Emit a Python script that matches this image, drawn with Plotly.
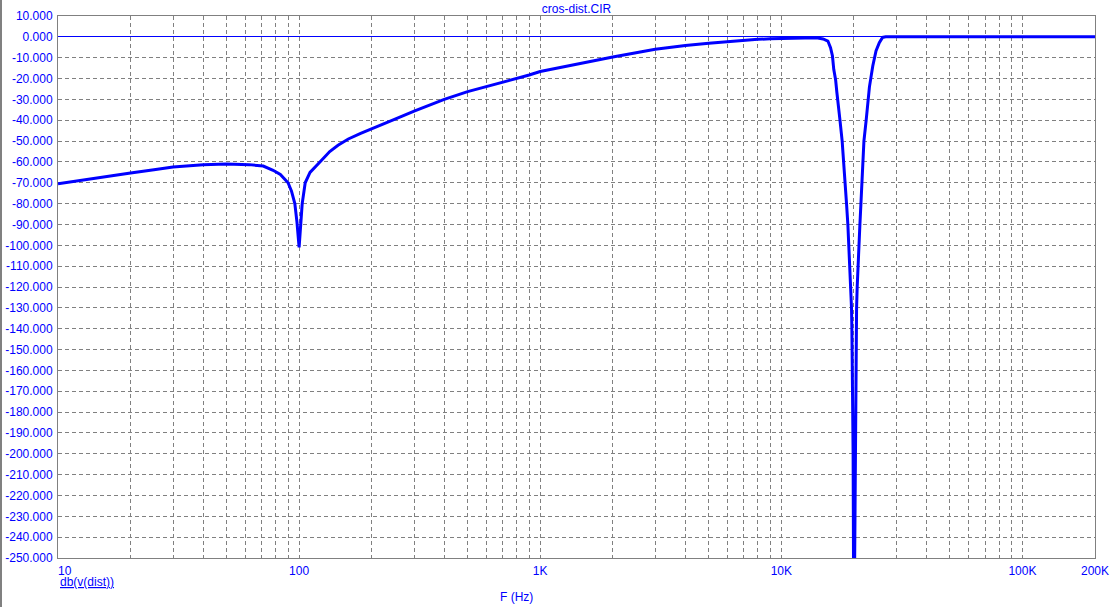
import plotly.graph_objects as go

# ---- data ----
freq_hz = [10, 15, 20, 25, 30, 40, 50, 62, 71, 78, 83.6, 90, 93, 96, 98, 100, 102, 103, 106, 111,
           122, 134, 145, 160, 180, 200, 250, 300, 400, 500, 600, 700, 800, 900, 1000, 1500, 2000, 3000,
           4000, 5000, 6000, 7000, 8000, 9000, 10000, 12000, 14000, 14900, 15600, 16000, 16300,
           16500, 16800, 17000, 17300, 17500, 17880, 18170, 18400, 18640, 18880, 19050, 19290,
           19420, 19550, 19620, 19680, 19740, 19850, 20000, 20200, 20320, 20380, 20440, 20520,
           20640, 20780, 20980, 21180, 21390, 21590, 21860, 22010, 22500, 23200, 23950, 24700,
           25500, 26300, 27100, 50000, 100000, 200000]
db_dist = [-70.5, -67.3, -65.3, -63.7, -62.4, -61.3, -61.0, -61.3, -62.0, -64.0, -66.0, -70.0,
           -74.0, -80.0, -89.0, -101.0, -89.0, -80.0, -70.0, -65.0,
           -60.0, -55.0, -52.0, -49.0, -46.3, -44.0, -39.5, -35.6, -30.0, -26.3, -23.9, -21.7, -20.0, -18.3,
           -16.6, -12.4, -9.7, -6.0,
           -4.1, -3.1, -2.3, -1.7, -1.2, -0.9, -0.7, -0.5, -0.4, -1.0, -2.0, -5.2, -9.2,
           -15.6, -20.7, -26.7, -33.0, -39.7, -50.0, -60.0, -70.0, -80.0, -90.0, -100.0, -110.0,
           -120.0, -130.0, -140.0, -150.0, -160.0, -200.0, -300.0, -215.0, -160.0, -150.0, -140.0, -130.0,
           -120.0, -110.0, -100.0, -90.0, -80.0, -70.0, -60.0, -50.0, -39.7, -24.0, -14.0, -6.8,
           -2.8, -0.3, 0.0, 0.0, 0.0, 0.0]

x_tick_vals = [10, 100, 1000, 10000, 100000, 200000]
x_tick_text = ["\u00a0\u00a0\u00a0\u00a010", "100", "1K", "10K", "100K", "200K"]
x_minor_vals = [m * d for d in (10, 100, 1000, 10000) for m in range(2, 10)] + [200000]
y_tick_vals = list(range(10, -251, -10))
y_tick_text = [f"{v:.3f}" for v in y_tick_vals]

title_text = "cros-dist.CIR"
y_title = "db(v(dist))"
x_title = "F (Hz)"

BLUE = "#0000ff"
GRID = "#808080"
FONT = "Liberation Sans, Arial, sans-serif"

fig = go.Figure()
fig.add_trace(go.Scatter(x=freq_hz, y=db_dist, mode="lines",
                         line=dict(color=BLUE, width=3), showlegend=False))

fig.update_layout(
    width=1118, height=607,
    margin=dict(l=58, r=23, t=16, b=49, autoexpand=False),
    paper_bgcolor="white", plot_bgcolor="white",
    font=dict(family=FONT, size=12, color=BLUE),
    title=dict(text=title_text, x=0.5, xref="paper", xanchor="center",
               y=1 - 8.5 / 607, yanchor="middle", automargin=False,
               font=dict(family=FONT, size=12, color=BLUE)),
    xaxis=dict(type="log", range=[1, 5.30103], automargin=False,
               tickmode="array", tickvals=x_tick_vals, ticktext=x_tick_text,
               showgrid=True, gridcolor=GRID, griddash="4px,3px", gridwidth=1,
               minor=dict(tickvals=x_minor_vals, showgrid=True, gridcolor=GRID,
                          griddash="4px,3px", gridwidth=1, ticks=""),
               showline=True, mirror=True, linecolor=GRID, linewidth=1,
               ticks="", ticklabelstandoff=2, zeroline=False,
               tickfont=dict(family=FONT, size=12, color=BLUE)),
    yaxis=dict(range=[-250, 10], automargin=False,
               tickmode="array", tickvals=y_tick_vals, ticktext=y_tick_text,
               showgrid=True, gridcolor=GRID, griddash="4px,3px", gridwidth=1,
               showline=True, mirror=True, linecolor=GRID, linewidth=1,
               zeroline=True, zerolinecolor=BLUE, zerolinewidth=1,
               ticks="", ticklabelstandoff=2,
               tickfont=dict(family=FONT, size=12, color=BLUE)),
    annotations=[
        dict(text=f"<u>{y_title}</u>", xref="paper", yref="paper", x=0, y=0,
             xanchor="left", yanchor="middle", yshift=-24, showarrow=False,
             font=dict(family=FONT, size=12, color=BLUE)),
        dict(text=x_title, xref="paper", yref="paper", x=(516 - 58) / 1037, y=0,
             xanchor="center", yanchor="middle", yshift=-38.5, showarrow=False,
             font=dict(family=FONT, size=12, color=BLUE)),
    ],
    shapes=[dict(type="line", xref="paper", yref="paper",
                 x0=(1 - 58) / 1037, x1=(1 - 58) / 1037, y0=-49 / 542, y1=1 + 16 / 542,
                 line=dict(color=GRID, width=2))],
)

fig.write_html("out.html", config={"displayModeBar": False},
               post_script="document.body.style.margin='0';document.body.style.overflow='hidden';")
